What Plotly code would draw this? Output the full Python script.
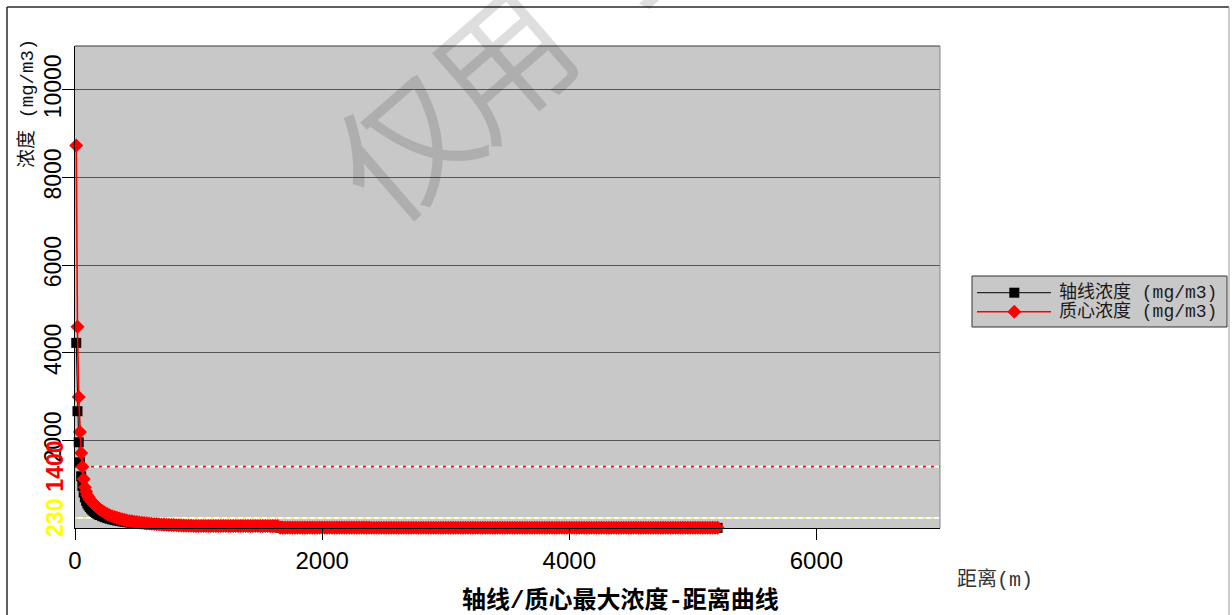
import plotly.graph_objects as go

# ---------------- data ----------------
x_ticks = [0, 2000, 4000, 6000]
y_ticks = [2000, 4000, 6000, 8000, 10000]
ref_levels = [1400, 230]          # 1400 (red) and 230 (yellow) reference levels
ref_colors = ["#FF0000", "#FFFF00"]

# distance from source (m)
distance_m = [
    10, 20, 30, 40, 50, 60, 70, 80, 90, 100,
    110, 120, 130, 140, 150, 160, 170, 180, 190, 200,
    220, 240, 260, 280, 300, 320, 340, 360, 380, 400,
    420, 440, 460, 480, 500, 520, 540, 560, 580, 600,
    620, 640, 660, 680, 700, 720, 740, 760, 780, 800,
    820, 840, 860, 880, 900, 920, 940, 960, 980, 1000,
    1020, 1040, 1060, 1080, 1100, 1120, 1140, 1160, 1180, 1200,
    1220, 1240, 1260, 1280, 1300, 1320, 1340, 1360, 1380, 1400,
    1420, 1440, 1460, 1480, 1500, 1520, 1540, 1560, 1580, 1600,
    1620, 1640, 1660, 1680, 1700, 1720, 1740, 1760, 1780, 1800,
    1820, 1840, 1860, 1880, 1900, 1920, 1940, 1960, 1980, 2000,
    2020, 2040, 2060, 2080, 2100, 2120, 2140, 2160, 2180, 2200,
    2220, 2240, 2260, 2280, 2300, 2320, 2340, 2360, 2380, 2400,
    2420, 2440, 2460, 2480, 2500, 2520, 2540, 2560, 2580, 2600,
    2620, 2640, 2660, 2680, 2700, 2720, 2740, 2760, 2780, 2800,
    2820, 2840, 2860, 2880, 2900, 2920, 2940, 2960, 2980, 3000,
    3020, 3040, 3060, 3080, 3100, 3120, 3140, 3160, 3180, 3200,
    3220, 3240, 3260, 3280, 3300, 3320, 3340, 3360, 3380, 3400,
    3420, 3440, 3460, 3480, 3500, 3520, 3540, 3560, 3580, 3600,
    3620, 3640, 3660, 3680, 3700, 3720, 3740, 3760, 3780, 3800,
    3820, 3840, 3860, 3880, 3900, 3920, 3940, 3960, 3980, 4000,
    4020, 4040, 4060, 4080, 4100, 4120, 4140, 4160, 4180, 4200,
    4220, 4240, 4260, 4280, 4300, 4320, 4340, 4360, 4380, 4400,
    4420, 4440, 4460, 4480, 4500, 4520, 4540, 4560, 4580, 4600,
    4620, 4640, 4660, 4680, 4700, 4720, 4740, 4760, 4780, 4800,
    4820, 4840, 4860, 4880, 4900, 4920, 4940, 4960, 4980, 5000,
    5020, 5040, 5060, 5080, 5100, 5120, 5140, 5160, 5180, 5200,
]

# maximum concentration on the plume axis (mg/m3)
axis_conc = [
    4225, 2665, 1957, 1500, 1180, 960, 810, 700, 620, 560,
    515, 478, 445, 416, 390, 367, 346, 328, 311, 296,
    270, 248, 229, 212, 197, 184, 172, 161, 151, 142,
    134, 126, 119, 113, 107, 102, 97, 92, 88, 84,
    81, 78, 75, 72, 69, 67, 64, 62, 60, 58,
    56, 54, 52, 50, 48, 47, 46, 45, 44, 44,
    43, 43, 43, 43, 43, 43, 43, 43, 43, 42,
    42, 42, 42, 42, 42, 42, 42, 42, 42, 42,
    41, 41, 41, 41, 41, 41, 41, 41, 40, 40,
    40, 40, 8, 8, 8, 8, 8, 8, 8, 8,
    8, 8, 8, 8, 8, 8, 8, 8, 8, 8,
    8, 8, 8, 8, 8, 8, 8, 8, 8, 8,
    8, 8, 8, 8, 8, 8, 8, 8, 8, 6,
    6, 6, 6, 6, 6, 6, 6, 6, 6, 6,
    6, 6, 6, 6, 6, 6, 6, 6, 6, 6,
    6, 6, 6, 6, 6, 6, 6, 6, 6, 6,
    6, 6, 6, 6, 6, 6, 6, 6, 6, 6,
    6, 6, 6, 6, 6, 6, 6, 6, 6, 4,
    4, 4, 4, 4, 4, 4, 4, 4, 4, 4,
    4, 4, 4, 4, 4, 4, 4, 4, 4, 4,
    4, 4, 4, 4, 4, 4, 4, 4, 4, 4,
    4, 4, 4, 4, 4, 4, 4, 4, 4, 4,
    4, 4, 4, 4, 4, 4, 4, 4, 4, 3,
    3, 3, 3, 3, 3, 3, 3, 3, 3, 3,
    3, 3, 3, 3, 3, 3, 3, 3, 3, 3,
    3, 3, 3, 3, 3, 3, 3, 3, 3, 3,
    3, 3, 3, 3, 3, 3, 3, 3, 3, 3,
]

# maximum concentration at the puff centroid (mg/m3)
centroid_conc = [
    8730, 4595, 2990, 2190, 1710, 1400, 1120, 930, 830, 750,
    700, 655, 620, 585, 555, 528, 502, 477, 452, 428,
    388, 352, 318, 290, 268, 249, 231, 214, 198, 185,
    172, 161, 151, 142, 134, 126, 119, 112, 106, 101,
    96, 92, 88, 84, 80, 77, 74, 71, 68, 66,
    63, 60, 57, 54, 52, 50, 49, 48, 47, 47,
    46, 46, 46, 46, 46, 46, 46, 46, 46, 45,
    45, 45, 45, 45, 45, 45, 45, 45, 45, 45,
    44, 44, 44, 44, 44, 44, 44, 44, 43, 43,
    43, 43, 9, 9, 9, 9, 9, 9, 9, 9,
    9, 9, 9, 9, 9, 9, 9, 9, 9, 9,
    9, 9, 9, 9, 9, 9, 9, 9, 9, 9,
    9, 9, 9, 9, 9, 9, 9, 9, 9, 7,
    7, 7, 7, 7, 7, 7, 7, 7, 7, 7,
    7, 7, 7, 7, 7, 7, 7, 7, 7, 7,
    7, 7, 7, 7, 7, 7, 7, 7, 7, 7,
    7, 7, 7, 7, 7, 7, 7, 7, 7, 7,
    7, 7, 7, 7, 7, 7, 7, 7, 7, 5,
    5, 5, 5, 5, 5, 5, 5, 5, 5, 5,
    5, 5, 5, 5, 5, 5, 5, 5, 5, 5,
    5, 5, 5, 5, 5, 5, 5, 5, 5, 5,
    5, 5, 5, 5, 5, 5, 5, 5, 5, 5,
    5, 5, 5, 5, 5, 5, 5, 5, 5, 4,
    4, 4, 4, 4, 4, 4, 4, 4, 4, 4,
    4, 4, 4, 4, 4, 4, 4, 4, 4, 4,
    4, 4, 4, 4, 4, 4, 4, 4, 4, 4,
    4, 4, 4, 4, 4, 4, 4, 4, 4, 4,
]

series_names = ["轴线浓度 (mg/m3)", "质心浓度 (mg/m3)"]
title_text = "轴线/质心最大浓度-距离曲线"
x_title = "距离(m)"
y_title = "浓度 (mg/m3)"
watermark_chars = ["仅", "用", "于"]

# ---------------- page geometry ----------------
W, H = 1232, 615
ML, MR, MT, MB = 75, 292, 46, 87
PW, PH = W - ML - MR, H - MT - MB


def px(x):
    """page pixel x -> paper coordinate"""
    return (x - ML) / PW


def py(y):
    """page pixel y (from top) -> paper coordinate"""
    return (H - MB - y) / PH


MIXED = "Liberation Mono, Noto Sans CJK SC"
SANS = "Liberation Sans, Arial"

fig = go.Figure()
fig.add_trace(go.Scatter(
    x=distance_m, y=axis_conc, mode="lines+markers", name=series_names[0],
    line=dict(color="black", width=1),
    marker=dict(symbol="square", size=10, color="black", line=dict(width=0)),
    cliponaxis=False, showlegend=False,
))
fig.add_trace(go.Scatter(
    x=distance_m, y=centroid_conc, mode="lines+markers", name=series_names[1],
    line=dict(color="#FF0000", width=1.6),
    marker=dict(symbol="diamond", size=10.8, color="#FF0000", line=dict(width=0)),
    cliponaxis=False, showlegend=False,
))

shapes = []
# reference levels: white base line with coloured dashes
for lvl, col in zip(ref_levels, ref_colors):
    shapes.append(dict(type="line", xref="paper", yref="y", x0=0, x1=1, y0=lvl, y1=lvl,
                       line=dict(color="white", width=1.6), layer="between"))
    shapes.append(dict(type="line", xref="paper", yref="y", x0=0, x1=1, y0=lvl, y1=lvl,
                       line=dict(color=col, width=1.6, dash="3px,5px"), layer="between"))

# plot-area top and right borders
shapes.append(dict(type="line", xref="paper", yref="paper", x0=0, x1=1, y0=1, y1=1,
                   line=dict(color="#3a3a3a", width=1.2)))
shapes.append(dict(type="line", xref="paper", yref="paper", x0=1, x1=1, y0=0, y1=1,
                   line=dict(color="#8a8a8a", width=1)))

# outer frame
shapes.append(dict(type="line", xref="paper", yref="paper", x0=px(7), x1=px(1229), y0=py(7), y1=py(7),
                   line=dict(color="#2a2a2a", width=1.5)))
shapes.append(dict(type="line", xref="paper", yref="paper", x0=px(7), x1=px(7), y0=py(7), y1=py(640),
                   line=dict(color="#2a2a2a", width=1.5)))
shapes.append(dict(type="line", xref="paper", yref="paper", x0=px(1229), x1=px(1229), y0=py(7), y1=py(640),
                   line=dict(color="#9a9a9a", width=1)))

# legend box
shapes.append(dict(type="rect", xref="paper", yref="paper", x0=px(972), x1=px(1227), y0=py(276), y1=py(327),
                   fillcolor="#C8C8C8", line=dict(color="#333333", width=1)))
leg_rows = [292.7, 311.7]
leg_colors = ["black", "#FF0000"]
leg_widths = [1, 1.6]
for yy, col, lw in zip(leg_rows, leg_colors, leg_widths):
    shapes.append(dict(type="line", xref="paper", yref="paper", x0=px(977), x1=px(1051), y0=py(yy), y1=py(yy),
                       line=dict(color=col, width=lw)))
# legend symbols (square / diamond), pixel sized
shapes.append(dict(type="rect", xref="paper", yref="paper", xsizemode="pixel", ysizemode="pixel",
                   xanchor=px(1014.3), yanchor=py(leg_rows[0]), x0=-5, x1=5, y0=-5, y1=5,
                   fillcolor="black", line=dict(width=0)))
shapes.append(dict(type="path", xref="paper", yref="paper", xsizemode="pixel", ysizemode="pixel",
                   xanchor=px(1014.3), yanchor=py(leg_rows[1]),
                   path="M -7 0 L 0 7 L 7 0 L 0 -7 Z",
                   fillcolor="#FF0000", line=dict(width=0)))

annotations = []
# legend texts
for yy, name in zip(leg_rows, series_names):
    annotations.append(dict(xref="paper", yref="paper", x=px(1057), y=py(yy), text=name,
                            showarrow=False, xanchor="left", yanchor="middle",
                            font=dict(family=MIXED, size=18, color="#1a1a1a")))
# reference level labels on the y axis
for lvl, col in zip(ref_levels, ref_colors):
    annotations.append(dict(xref="paper", yref="y", x=px(55), y=lvl, text=f"<b>{lvl}</b>",
                            showarrow=False, textangle=-90, xanchor="center", yanchor="middle",
                            font=dict(family=SANS, size=23, color=col)))
# axis titles and chart title
annotations.append(dict(xref="paper", yref="paper", x=px(27), y=py(104), text=y_title,
                        showarrow=False, textangle=-90, xanchor="center", yanchor="middle",
                        font=dict(family=MIXED, size=19, color="#111111")))
annotations.append(dict(xref="paper", yref="paper", x=px(995), y=py(580), text=x_title,
                        showarrow=False, xanchor="center", yanchor="middle",
                        font=dict(family=MIXED, size=20, color="#333333")))
annotations.append(dict(xref="paper", yref="paper", x=px(620), y=py(601), text=f"<b>{title_text}</b>",
                        showarrow=False, xanchor="center", yanchor="middle",
                        font=dict(family=MIXED, size=24, color="black")))
# diagonal watermark, one glyph at a time
wm_centres = [(400, 140), (497, 56), (625, -62)]
for ch, (cx, cy) in zip(watermark_chars, wm_centres):
    annotations.append(dict(xref="paper", yref="paper", x=px(cx), y=py(cy), text=ch,
                            showarrow=False, textangle=-41, xanchor="center", yanchor="middle",
                            font=dict(family="Noto Sans CJK SC", size=136, color="rgba(0,0,0,0.13)")))

fig.update_layout(
    width=W, height=H,
    margin=dict(l=ML, r=MR, t=MT, b=MB, pad=0),
    paper_bgcolor="white", plot_bgcolor="#C8C8C8",
    showlegend=False,
    shapes=shapes, annotations=annotations,
    xaxis=dict(range=[0, 7000], tickvals=x_ticks, ticktext=[str(v) for v in x_ticks],
               ticks="outside", ticklen=11, tickwidth=1, tickcolor="black",
               showline=True, linecolor="black", linewidth=1,
               showgrid=False, zeroline=False,
               tickfont=dict(family=SANS, size=24, color="black")),
    yaxis=dict(range=[0, 11000], tickvals=y_ticks, ticktext=[str(v) for v in y_ticks],
               ticks="outside", ticklen=12, tickwidth=1, tickcolor="black", tickangle=-90,
               ticklabelstandoff=-8,
               showline=True, linecolor="black", linewidth=1,
               showgrid=True, gridcolor="#555555", gridwidth=1, zeroline=False,
               tickfont=dict(family=SANS, size=23, color="black")),
)

fig.write_html("out.html")
